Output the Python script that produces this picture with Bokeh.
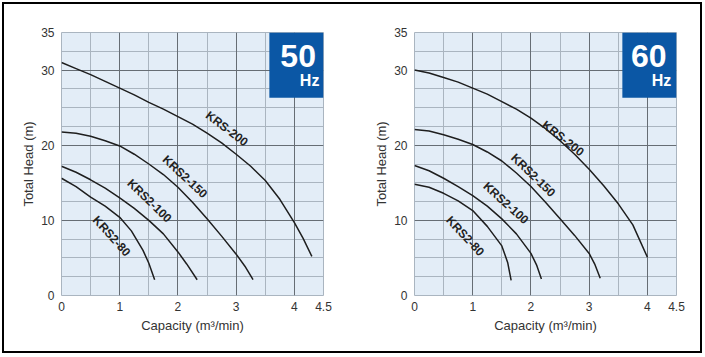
from bokeh.plotting import figure
from bokeh.layouts import row
from bokeh.models import FixedTicker, Grid, Range1d, ColumnDataSource
from bokeh.embed import file_html
from bokeh.resources import INLINE
from bokeh.core.properties import value
import math

# ---------------- data ----------------
x_ticks = [0, 1, 2, 3, 4, 4.5]
y_ticks = [0, 10, 20, 30, 35]
x_grid_major = [1, 2, 3, 4]
x_grid_minor = [0.5, 1.5, 2.5, 3.5]
y_grid_major = [10, 20, 30]
y_grid_minor = [2.5, 5, 7.5, 12.5, 15, 17.5, 22.5, 25, 27.5, 32.5]

names = ["KRS-200", "KRS2-150", "KRS2-100", "KRS2-80"]

# 50 Hz curves
q50_200 = [0, 0.25, 0.5, 0.75, 1.0, 1.25, 1.5, 1.75, 2.0, 2.25, 2.5, 2.75, 3.0, 3.25, 3.5, 3.75, 4.0, 4.15, 4.3]
h50_200 = [31.0, 30.2, 29.4, 28.5, 27.6, 26.7, 25.7, 24.8, 23.8, 22.8, 21.6, 20.3, 18.8, 17.2, 15.3, 12.8, 9.7, 7.6, 5.2]
q50_150 = [0, 0.25, 0.5, 0.75, 1.0, 1.25, 1.5, 1.75, 2.0, 2.25, 2.5, 2.75, 3.0, 3.15, 3.29]
h50_150 = [21.75, 21.6, 21.2, 20.6, 19.9, 18.8, 17.5, 16.1, 14.4, 12.4, 10.2, 7.9, 5.5, 3.9, 2.1]
q50_100 = [0, 0.25, 0.5, 0.75, 1.0, 1.25, 1.5, 1.75, 2.0, 2.15, 2.33]
h50_100 = [17.2, 16.4, 15.4, 14.3, 13.0, 11.6, 10.0, 8.2, 5.8, 4.2, 2.1]
q50_80 = [0, 0.25, 0.5, 0.75, 1.0, 1.2, 1.4, 1.5, 1.6]
h50_80 = [15.6, 14.5, 13.1, 11.9, 10.4, 8.6, 6.0, 4.3, 2.1]

# 60 Hz curves
q60_200 = [0, 0.25, 0.5, 0.75, 1.0, 1.25, 1.5, 1.75, 2.0, 2.25, 2.5, 2.75, 3.0, 3.25, 3.5, 3.75, 4.0]
h60_200 = [30.0, 29.6, 29.0, 28.4, 27.6, 26.8, 25.8, 24.8, 23.6, 22.2, 20.6, 18.8, 16.8, 14.6, 12.2, 9.4, 5.1]
q60_150 = [0, 0.25, 0.5, 0.75, 1.0, 1.25, 1.5, 1.75, 2.0, 2.25, 2.5, 2.75, 3.0, 3.1, 3.19]
h60_150 = [22.1, 21.9, 21.4, 20.8, 20.1, 19.1, 17.9, 16.3, 14.5, 12.4, 10.2, 8.0, 5.6, 4.1, 2.3]
q60_100 = [0, 0.25, 0.5, 0.75, 1.0, 1.25, 1.5, 1.75, 2.0, 2.1, 2.18]
h60_100 = [17.3, 16.6, 15.6, 14.5, 13.3, 11.9, 10.2, 8.2, 5.6, 4.0, 2.2]
q60_80 = [0, 0.25, 0.5, 0.75, 1.0, 1.25, 1.5, 1.6, 1.66]
h60_80 = [14.8, 14.4, 13.6, 12.6, 11.3, 9.2, 6.6, 4.4, 2.0]

# label placement (data coords) and rotation (deg)
lab50_x = [2.84, 2.12, 1.51, 0.86]
lab50_y = [22.2, 15.8, 12.6, 7.9]
lab50_a = [-37, -43, -44, -48]
lab60_x = [2.55, 2.04, 1.57, 0.87]
lab60_y = [20.9, 16.0, 12.3, 7.9]
lab60_a = [-38, -44, -42, -47]

# ---------------- styling ----------------
BG = "#e3edf7"
GRID_DARK = "#666d74"
GRID_LIGHT = "#aab5c0"
BADGE = "#0b57a5"
TXT = "#333333"
FONT = "Liberation Sans"


def make_chart(curves, lab_x, lab_y, lab_a, hz, left_border, right_border, num_x, hz_x):
    p = figure(width=348, height=347, x_range=Range1d(0, 4.5), y_range=Range1d(0, 35),
               output_backend="svg", toolbar_location=None,
               min_border_left=left_border, min_border_right=right_border,
               min_border_top=28, min_border_bottom=56)
    p.background_fill_color = BG
    p.border_fill_color = "white"
    p.outline_line_color = GRID_LIGHT

    # grids
    p.xgrid.ticker = FixedTicker(ticks=x_grid_minor)
    p.xgrid.grid_line_color = GRID_LIGHT
    p.ygrid.ticker = FixedTicker(ticks=y_grid_minor)
    p.ygrid.grid_line_color = GRID_LIGHT
    p.add_layout(Grid(dimension=0, ticker=FixedTicker(ticks=x_grid_major),
                      grid_line_color=GRID_DARK, grid_line_width=1))
    p.add_layout(Grid(dimension=1, ticker=FixedTicker(ticks=y_grid_major),
                      grid_line_color=GRID_DARK, grid_line_width=1))

    # axes
    for ax in (p.xaxis[0], p.yaxis[0]):
        ax.axis_line_color = None
        ax.major_tick_line_color = None
        ax.minor_tick_line_color = None
        ax.major_label_text_font = FONT
        ax.major_label_text_font_size = "12px"
        ax.major_label_text_color = TXT
        ax.axis_label_text_font = FONT
        ax.axis_label_text_font_size = "13px"
        ax.axis_label_text_font_style = "normal"
        ax.axis_label_text_color = TXT
    p.xaxis.ticker = FixedTicker(ticks=x_ticks)
    p.yaxis.ticker = FixedTicker(ticks=y_ticks)
    p.xaxis.major_label_standoff = 0
    p.yaxis.major_label_standoff = 1
    p.xaxis.axis_label = "Capacity (m\u00b3/min)"
    p.yaxis.axis_label = "Total Head (m)"
    p.xaxis.axis_label_standoff = 4
    p.yaxis.axis_label_standoff = 2

    # badge
    p.quad(left=3.57, right=4.5, bottom=26.3, top=35, fill_color=BADGE, line_color=None)
    p.text(x=[num_x], y=[31.9], text=[hz], text_align="right", text_baseline="alphabetic",
           text_font=value(FONT), text_font_style="bold", text_font_size="32px",
           text_color="white")
    p.text(x=[hz_x], y=[28.6], text=["Hz"], text_align="right", text_baseline="alphabetic",
           text_font=value(FONT), text_font_style="bold", text_font_size="16px",
           text_color="white")

    # curves
    for q, h in curves:
        p.line(q, h, line_color="#1e1e1e", line_width=1.5)

    # curve labels
    src = ColumnDataSource(dict(x=lab_x, y=lab_y, t=names,
                                a=[math.radians(a) for a in lab_a]))
    p.text(x="x", y="y", text="t", angle="a", source=src, text_align="center",
           text_baseline="middle", text_font=value(FONT), text_font_style="bold",
           text_font_size="12px", text_color="#222222")
    return p


p50 = make_chart([(q50_200, h50_200), (q50_150, h50_150), (q50_100, h50_100), (q50_80, h50_80)],
                 lab50_x, lab50_y, lab50_a, "50", 57, 29, 4.37, 4.43)
p60 = make_chart([(q60_200, h60_200), (q60_150, h60_150), (q60_100, h60_100), (q60_80, h60_80)],
                 lab60_x, lab60_y, lab60_a, "60", 62, 24, 4.33, 4.41)

layout = row(p50, p60, styles={"border": "2px solid black", "margin": "2px"})

open("out.html", "w").write(file_html(layout, INLINE))
